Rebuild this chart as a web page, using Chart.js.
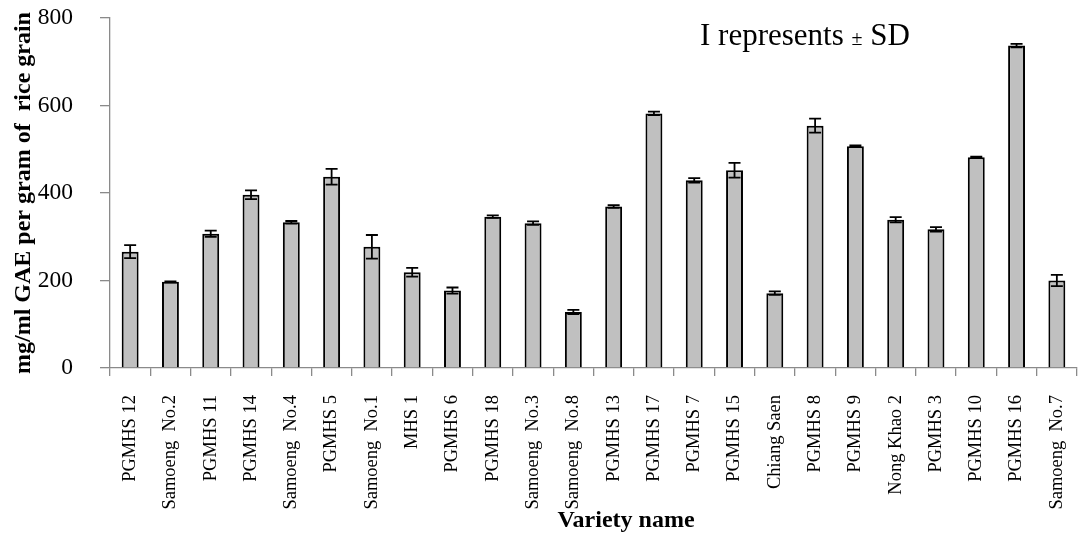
<!DOCTYPE html>
<html>
<head>
<meta charset="utf-8">
<title>Total phenolic content of rice varieties</title>
<script src="https://cdn.jsdelivr.net/npm/chart.js@4.4.0/dist/chart.umd.min.js"></script>
<style>
  html, body { margin: 0; padding: 0; background: #fff; }
  #wrap { width: 1079px; height: 536px; }
</style>
</head>
<body>
<div id="wrap"><canvas id="gaeChart" width="1079" height="536"></canvas></div>
<script>
// Variety names along the x axis
const varieties = [
    "PGMHS 12", "Samoeng  No.2", "PGMHS 11", "PGMHS 14", "Samoeng  No.4", "PGMHS 5",
    "Samoeng  No.1", "MHS 1", "PGMHS 6", "PGMHS 18", "Samoeng  No.3", "Samoeng  No.8",
    "PGMHS 13", "PGMHS 17", "PGMHS 7", "PGMHS 15", "Chiang Saen", "PGMHS 8",
    "PGMHS 9", "Nong Khao 2", "PGMHS 3", "PGMHS 10", "PGMHS 16", "Samoeng  No.7"
];

// mean phenolic content (mg/ml GAE per gram of rice grain)
const meanGAE = [266, 197, 307, 396, 333, 437, 277, 219, 177, 346, 331, 128,
                 369, 582, 429, 452, 171, 554, 507, 339, 317, 482, 737, 200];

// standard deviation for each variety
const sdGAE = [15, 1, 7, 10, 3, 18, 27, 10, 7, 3, 4, 5,
               3, 4, 5, 17, 4, 16, 2, 6, 5, 1, 4, 13];

// y axis ticks
const yTicks = [0, 200, 400, 600, 800];

const serif = "'Liberation Serif', 'Times New Roman', serif";
const axisGrey = '#8a8a8a';

// draws the ± SD whiskers on top of each bar
const errorBars = {
    id: 'errorBars',
    afterDatasetsDraw(chart) {
        const ctx = chart.ctx;
        const yScale = chart.scales.y;
        const meta = chart.getDatasetMeta(0);
        ctx.save();
        ctx.strokeStyle = '#000';
        ctx.lineWidth = 1.8;
        meta.data.forEach((bar, i) => {
            const x = bar.x;
            const top = yScale.getPixelForValue(meanGAE[i] + sdGAE[i]);
            const bottom = yScale.getPixelForValue(meanGAE[i] - sdGAE[i]);
            const cap = 6;
            ctx.beginPath();
            ctx.moveTo(x, top);
            ctx.lineTo(x, bottom);
            ctx.moveTo(x - cap, top);
            ctx.lineTo(x + cap, top);
            ctx.moveTo(x - cap, bottom);
            ctx.lineTo(x + cap, bottom);
            ctx.stroke();
        });
        ctx.restore();
    }
};

// legend note and x axis title
const notes = {
    id: 'notes',
    afterDraw(chart) {
        const ctx = chart.ctx;
        ctx.save();
        ctx.fillStyle = '#000';
        ctx.textBaseline = 'alphabetic';
        ctx.textAlign = 'left';
        let x = 700;
        const base = 45;
        ctx.font = '31px ' + serif;
        ctx.fillText('I represents ', x, base);
        x += ctx.measureText('I represents ').width;
        ctx.font = '20px ' + serif;
        ctx.fillText('\u00B1', x, base);
        x += ctx.measureText('\u00B1').width;
        ctx.font = '31px ' + serif;
        ctx.fillText(' SD', x, base);

        ctx.font = 'bold 24px ' + serif;
        ctx.textAlign = 'center';
        ctx.fillText('Variety name', 626, 527);
        ctx.restore();
    }
};

const ctx = document.getElementById('gaeChart').getContext('2d');
const gaeChart = new Chart(ctx, {
    type: 'bar',
    data: {
        labels: varieties,
        datasets: [{
            data: meanGAE,
            backgroundColor: '#c0c0c0',
            borderColor: '#000',
            borderWidth: 2,
            borderSkipped: 'bottom',
            categoryPercentage: 1,
            barPercentage: 0.42
        }]
    },
    options: {
        responsive: false,
        animation: false,
        layout: { padding: { top: 18, right: 2, bottom: 0, left: 0 } },
        plugins: {
            legend: { display: false },
            tooltip: { enabled: false }
        },
        scales: {
            x: {
                afterFit(scale) {
                    scale.height = 168;
                    scale.paddingLeft = 0;
                    scale.paddingRight = 0;
                },
                grid: {
                    drawOnChartArea: false,
                    drawTicks: true,
                    tickLength: 8,
                    color: axisGrey,
                    lineWidth: 1.3
                },
                border: { display: true, color: axisGrey, width: 1.3 },
                ticks: {
                    autoSkip: false,
                    minRotation: 90,
                    maxRotation: 90,
                    padding: 19,
                    color: '#000',
                    font: { family: serif, size: 18.5 }
                }
            },
            y: {
                min: 0,
                max: 800,
                afterFit(scale) {
                    scale.width = 110;
                    scale.paddingTop = 0;
                    scale.paddingBottom = 0;
                },
                afterBuildTicks(scale) { scale.ticks = yTicks.map(v => ({ value: v })); },
                grid: {
                    drawOnChartArea: false,
                    drawTicks: true,
                    tickLength: 10,
                    color: axisGrey,
                    lineWidth: 1.3
                },
                border: { display: true, color: axisGrey, width: 1.3 },
                ticks: {
                    padding: 27,
                    color: '#000',
                    font: { family: serif, size: 23.5 }
                },
                title: {
                    display: true,
                    text: 'mg/ml GAE per gram of  rice grain',
                    color: '#000',
                    padding: { top: 9, bottom: 0 },
                    font: { family: serif, size: 24, weight: 'bold' }
                }
            }
        }
    },
    plugins: [errorBars, notes]
});
</script>
</body>
</html>
